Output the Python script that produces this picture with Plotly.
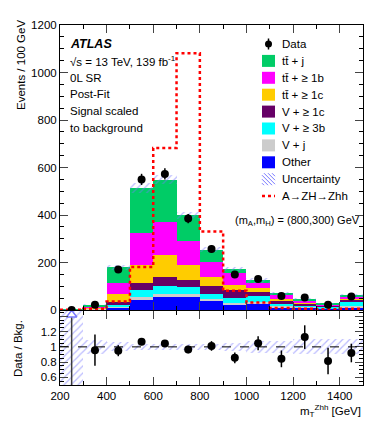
import numpy as np
import plotly.graph_objects as go

# binning (GeV)
edges = [200, 300, 400, 500, 600, 700, 800, 900, 1000, 1100, 1200, 1300, 1400, 1500]
centers = [250, 350, 450, 550, 650, 750, 850, 950, 1050, 1150, 1250, 1350, 1450]

# post-fit background components (events / 100 GeV), bottom -> top of stack
other = [1, 4, 12, 41, 55, 55, 36, 22, 25, 12, 9, 6, 12]
v_j = [0, 1, 4, 12, 14, 12, 10, 8, 9, 4, 3, 2, 3]
v_3b = [0, 1, 5, 30, 32, 28, 23, 20, 24, 9, 9, 5, 20]
v_1c = [0, 2, 14, 31, 38, 31, 31, 34, 18, 13, 5, 4, 8]
tt_1c = [0, 4, 33, 77, 93, 65, 37, 20, 17, 9, 4, 2, 5]
tt_1b = [0, 4, 45, 132, 139, 98, 65, 52, 21, 17, 10, 6, 9]
tt_j = [1, 7, 67, 192, 178, 110, 52, 18, 11, 6, 7, 2, 5]

data = [0, 22, 171, 550, 573, 385, 257, 149, 131, 59, 53, 22, 57]
signal = [1, 5, 36, 181, 682, 1081, 331, 81, 32, 8, 5, 3, 5]
rel_unc = [1.0, 0.09, 0.06, 0.04, 0.035, 0.035, 0.04, 0.05, 0.08, 0.08, 0.1, 0.1, 0.1]

stack = [
    ("Other", other, "rgb(0,0,255)"),
    ("V + j", v_j, "rgb(204,204,204)"),
    ("V + \u2265 3b", v_3b, "rgb(0,255,255)"),
    ("V + \u2265 1c", v_1c, "rgb(102,0,102)"),
    ("tt\u0304 + \u2265 1c", tt_1c, "rgb(255,204,0)"),
    ("tt\u0304 + \u2265 1b", tt_1b, "rgb(255,0,255)"),
    ("tt\u0304 + j", tt_j, "rgb(0,204,102)"),
]

HATCH = "rgb(120,120,255)"
FONT = "Liberation Sans"

W, H = 374, 421
ML, MR, MT, MB = 52, 19, 17, 44
PW, PH = W - ML - MR, H - MT - MB


def px(x):
    return (x - ML) / PW


def py(y):
    return (H - MB - y) / PH


fig = go.Figure()

# stacked backgrounds
cum = np.zeros(len(centers))
for name, vals, col in stack:
    vals = np.array(vals, dtype=float)
    fig.add_trace(go.Bar(x=centers, y=vals, base=cum.copy(), width=100,
                         marker=dict(color=col, line=dict(width=0)),
                         xaxis="x", yaxis="y", showlegend=False))
    cum += vals
bkg = cum
unc = np.array(rel_unc)

# uncertainty band
fig.add_trace(go.Bar(x=centers, y=2 * bkg * unc, base=bkg * (1 - unc), width=100,
                     marker=dict(color="rgba(0,0,0,0)", line=dict(width=0),
                                 pattern=dict(shape="/", fgcolor=HATCH, size=5,
                                              solidity=0.25, fillmode="overlay")),
                     xaxis="x", yaxis="y", showlegend=False))

# signal
fig.add_trace(go.Scatter(x=edges, y=signal + [signal[-1]], mode="lines",
                         line=dict(shape="hv", color="red", dash="dot", width=2.5),
                         xaxis="x", yaxis="y", showlegend=False))

# data
d = np.array(data, dtype=float)
fig.add_trace(go.Scatter(x=centers, y=d, mode="markers",
                         marker=dict(color="black", size=8),
                         error_y=dict(type="data", array=np.sqrt(d), color="black",
                                      thickness=1.5, width=0),
                         xaxis="x", yaxis="y", showlegend=False))

# ratio panel
r_range = [0.5, 1.47]
fig.add_trace(go.Bar(x=centers, y=2 * unc, base=1 - unc, width=100,
                     marker=dict(color="rgba(0,0,0,0)", line=dict(width=0),
                                 pattern=dict(shape="/", fgcolor=HATCH, size=5,
                                              solidity=0.25, fillmode="overlay")),
                     xaxis="x2", yaxis="y2", showlegend=False))

ok = d > 0
rx = [c for c, k in zip(centers, ok) if k]
ratio = d[ok] / bkg[ok]
rerr = np.sqrt(d[ok]) / bkg[ok]
fig.add_trace(go.Scatter(x=rx, y=ratio, mode="markers",
                         marker=dict(color="black", size=8),
                         error_y=dict(type="data", array=rerr, color="black",
                                      thickness=1.5, width=0),
                         xaxis="x2", yaxis="y2", showlegend=False))

# off-scale marker for empty bins
zx = [c for c, k in zip(centers, ok) if not k]
top = r_range[1] - 0.05
fig.add_trace(go.Scatter(x=zx, y=[top] * len(zx), mode="markers",
                         marker=dict(symbol="triangle-up", size=9, color="white",
                                     line=dict(color=HATCH, width=1.5)),
                         error_y=dict(type="data", symmetric=False, array=[0] * len(zx),
                                      arrayminus=[top - r_range[0]] * len(zx),
                                      color="rgb(60,60,60)", thickness=1.5, width=0),
                         xaxis="x2", yaxis="y2", showlegend=False))

fig.add_shape(type="line", xref="x2 domain", yref="y2", x0=0, x1=1, y0=1, y1=1,
              line=dict(color="black", width=1, dash="dash"))

# axes
tickfont = dict(family=FONT, size=11.5, color="black")
common = dict(showline=True, linecolor="black", linewidth=1, mirror="allticks",
              ticks="inside", showgrid=False, zeroline=False, tickfont=tickfont)
xcommon = dict(common, range=[200, 1500], tick0=200, dtick=200, ticklen=8,
               minor=dict(dtick=100, ticklen=4, ticks="inside", tickcolor="black"))

fig.update_layout(
    width=W, height=H,
    margin=dict(l=ML, r=MR, t=MT, b=MB),
    paper_bgcolor="white", plot_bgcolor="white",
    barmode="overlay", bargap=0,
    font=dict(family=FONT, size=11.5, color="black"),
    xaxis=dict(xcommon, anchor="y", domain=[0, 1], showticklabels=False),
    yaxis=dict(common, anchor="x", domain=[py(302), 1], range=[0, 1200], dtick=200,
               ticklen=8, minor=dict(dtick=50, ticklen=4, ticks="inside", tickcolor="black")),
    xaxis2=dict(xcommon, anchor="y2", domain=[0, 1], showticklabels=True),
    yaxis2=dict(common, anchor="x2", domain=[0, py(303)], range=r_range,
                tickmode="array", tickvals=[0.6, 0.8, 1.0, 1.2, 1.4],
                ticktext=["0.6", "0.8", "1", "1.2", ""], ticklen=8,
                minor=dict(dtick=0.05, ticklen=4, ticks="inside", tickcolor="black")),
)


def text(x, y, s, size=11.5, anchor="left", **kw):
    fig.add_annotation(x=px(x), y=py(y), xref="paper", yref="paper", text=s,
                       showarrow=False, xanchor=anchor, yanchor="middle",
                       font=dict(family=FONT, size=size, color="black"), **kw)


text(60, 36, "<b><i>ATLAS</i></b>", size=12.5)
text(60, 53, "\u221as = 13 TeV, 139 fb<sup>-1</sup>")
text(60, 69.5, "0L SR")
text(60, 86, "Post-Fit")
text(60, 103, "Signal scaled")
text(60, 119.5, "to background")

text(13, 57, "Events / 100 GeV", anchor="center", textangle=-90)
text(10, 340, "Data / Bkg.", anchor="center", textangle=-90)
text(355, 403, "m<sub>T</sub><sup>Zhh</sup> [GeV]", anchor="right")

# legend (drawn by hand to match ROOT spacing)
sx0, sx1 = 254, 267
rows = [36 + 16.9 * i for i in range(10)]
text(272, rows[0], "Data")
fig.add_shape(type="line", xref="paper", yref="paper", x0=px(260.5), x1=px(260.5),
              y0=py(rows[0] - 5.5), y1=py(rows[0] + 5.5), line=dict(color="black", width=1.5))
fig.add_shape(type="circle", xref="paper", yref="paper", x0=px(257), x1=px(264),
              y0=py(rows[0] + 3.5), y1=py(rows[0] - 3.5), fillcolor="black",
              line=dict(color="black", width=0))
for (name, _, col), yy in zip(stack[::-1], rows[1:8]):
    fig.add_shape(type="rect", xref="paper", yref="paper", x0=px(sx0), x1=px(sx1),
                  y0=py(yy + 6), y1=py(yy - 6), fillcolor=col, line=dict(width=0))
    text(272, yy, name)

yy = rows[8]
yb, ht, wd = yy + 6, 12, sx1 - sx0
for s in range(2, wd + ht, 4):
    u0, u1 = max(0, s - ht), min(wd, s)
    fig.add_shape(type="line", xref="paper", yref="paper",
                  x0=px(sx0 + u0), y0=py(yb - (s - u0)),
                  x1=px(sx0 + u1), y1=py(yb - (s - u1)),
                  line=dict(color=HATCH, width=1))
text(272, yy, "Uncertainty")

yy = rows[9]
fig.add_shape(type="line", xref="paper", yref="paper", x0=px(sx0), x1=px(sx1),
              y0=py(yy), y1=py(yy), line=dict(color="red", width=2.5, dash="dot"))
text(272, yy, "A\u2192ZH\u2192Zhh")
text(225, 213, "(m<sub>A</sub>,m<sub>H</sub>) = (800,300) GeV", size=11)

fig.write_html("out.html")
